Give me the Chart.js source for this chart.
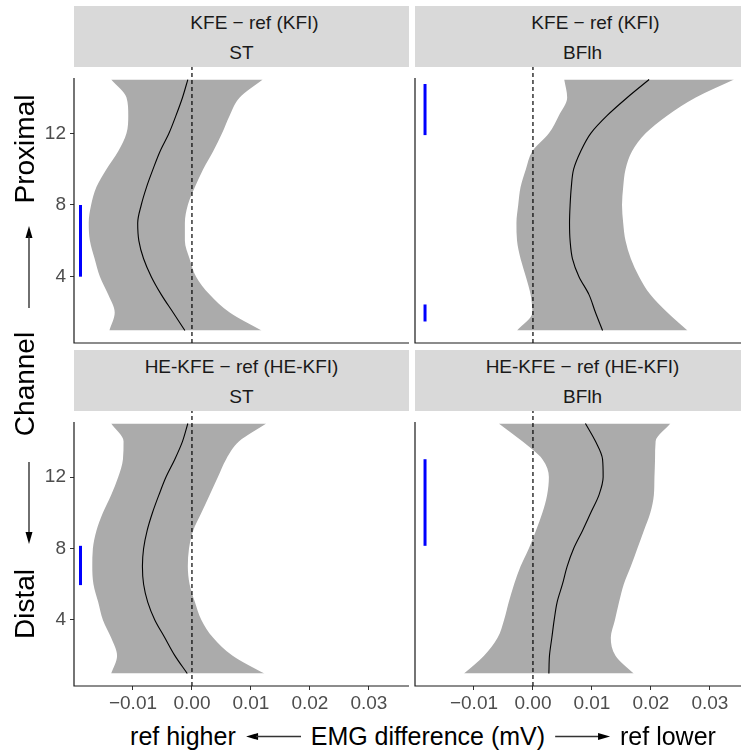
<!DOCTYPE html>
<html>
<head>
<meta charset="utf-8">
<script src="https://cdn.jsdelivr.net/npm/chart.js@4.4.0/dist/chart.umd.min.js"></script>
<style>
  html, body { margin: 0; padding: 0; background: #fff; overflow: hidden; }
  body { width: 741px; height: 753px; position: relative; font-family: "Liberation Sans", Arial, sans-serif; }
  canvas { position: absolute; }
  .strip {
    position: absolute; width: 335px; height: 61px; box-sizing: border-box; padding-top: 3px;
    background: #d9d9d9; color: #1a1a1a; font-size: 19px; line-height: 30px;
    display: flex; flex-direction: column; justify-content: center; align-items: center; white-space: nowrap;
  }
  .strip .shift { padding-left: 26px; }
  .ytitle { position: absolute; font-size: 28px; color: #000; white-space: nowrap; transform: translate(-50%, -50%) rotate(-90deg); }
  .xtitle {
    position: absolute; left: 423px; top: 736px; transform: translate(-50%, -50%);
    display: flex; align-items: center; gap: 10px; font-size: 25px; color: #000; white-space: nowrap;
  }
  svg { display: block; }
  .yarrow { position: absolute; }
</style>
</head>
<body>

<div class="strip" style="left:74px; top:6px;"><div class="shift">KFE − ref (KFI)</div><div>ST</div></div>
<div class="strip" style="left:415px; top:6px;"><div class="shift">KFE − ref (KFI)</div><div>BFlh</div></div>
<div class="strip" style="left:74px; top:350px;"><div>HE-KFE − ref (HE-KFI)</div><div>ST</div></div>
<div class="strip" style="left:415px; top:350px;"><div>HE-KFE − ref (HE-KFI)</div><div>BFlh</div></div>

<canvas id="p1" width="410" height="278" style="left:0px; top:67px;"></canvas>
<canvas id="p2" width="346" height="278" style="left:405px; top:67px;"></canvas>
<canvas id="p3" width="410" height="310" style="left:0px; top:411px;"></canvas>
<canvas id="p4" width="346" height="310" style="left:405px; top:411px;"></canvas>

<div class="ytitle" style="left:25px; top:149px;">Proximal</div>
<svg class="yarrow" style="left:22px; top:226px;" width="14" height="82">
  <polygon points="7,0 3.5,12 10.5,12" fill="#000"/>
  <line x1="7" y1="10" x2="7" y2="82" stroke="#333" stroke-width="1.4"/>
</svg>
<div class="ytitle" style="left:25px; top:384px;">Channel</div>
<svg class="yarrow" style="left:22px; top:462px;" width="14" height="82">
  <line x1="7" y1="0" x2="7" y2="72" stroke="#333" stroke-width="1.4"/>
  <polygon points="7,82 3.5,70 10.5,70" fill="#000"/>
</svg>
<div class="ytitle" style="left:25px; top:604px;">Distal</div>

<div class="xtitle">
  <span>ref higher</span>
  <svg width="55" height="10"><polygon points="0,5 12,1.5 12,8.5" fill="#000"/><line x1="10" y1="5" x2="55" y2="5" stroke="#333" stroke-width="1.4"/></svg>
  <span>EMG difference (mV)</span>
  <svg width="55" height="10"><line x1="0" y1="5" x2="45" y2="5" stroke="#333" stroke-width="1.4"/><polygon points="55,5 43,1.5 43,8.5" fill="#000"/></svg>
  <span>ref lower</span>
</div>

<script>
const channels = [1, 2, 3, 4, 5, 6, 7, 8, 9, 10, 11, 12, 13, 14, 15];
const yTicks = [4, 8, 12];
const yTickLabels = ["4", "8", "12"];
const xTicks = [-0.01, 0, 0.01, 0.02, 0.03];
const xTickLabels = ["\u22120.01", "0.00", "0.01", "0.02", "0.03"];
const xLimits = [-0.0200, 0.0368];

// KFE - ref (KFI), ST
const kfeStLower = [-0.0140, -0.0131, -0.0142, -0.0156, -0.0165, -0.0173, -0.0175, -0.0171, -0.0162, -0.0145, -0.0125, -0.0111, -0.0108, -0.0111, -0.0137];
const kfeStUpper = [0.0118, 0.0064, 0.0030, 0.0007, -0.0004, -0.0012, -0.0012, -0.0007, 0.0005, 0.0019, 0.0036, 0.0051, 0.0064, 0.0081, 0.0120];
const kfeStMean = [-0.0012, -0.0032, -0.0052, -0.0069, -0.0082, -0.0090, -0.0092, -0.0086, -0.0077, -0.0066, -0.0054, -0.0039, -0.0027, -0.0016, -0.0007];
const kfeStSig = [[4, 8]];
const kfeStSigX = -0.0189;

// KFE - ref (KFI), BFlh
const kfeBfLower = [-0.0027, -0.0001, -0.0004, -0.0012, -0.0021, -0.0027, -0.0028, -0.0025, -0.0021, -0.0012, -0.0001, 0.0027, 0.0044, 0.0058, 0.0053];
const kfeBfUpper = [0.0262, 0.0228, 0.0199, 0.0180, 0.0166, 0.0157, 0.0153, 0.0151, 0.0153, 0.0157, 0.0168, 0.0191, 0.0228, 0.0276, 0.0341];
const kfeBfMean = [0.0118, 0.0106, 0.0095, 0.0078, 0.0067, 0.0063, 0.0062, 0.0063, 0.0065, 0.0069, 0.0081, 0.0098, 0.0126, 0.0160, 0.0197];
const kfeBfSig = [[11.9, 14.75], [1.5, 2.45]];
const kfeBfSigX = -0.0183;

// HE-KFE - ref (HE-KFI), ST
const heStLower = [-0.0137, -0.0127, -0.0137, -0.0151, -0.0159, -0.0167, -0.0169, -0.0168, -0.0162, -0.0151, -0.0137, -0.0125, -0.0117, -0.0116, -0.0137];
const heStUpper = [0.0123, 0.0069, 0.0036, 0.0016, 0.0005, -0.0004, -0.0007, -0.0005, 0.0002, 0.0016, 0.0030, 0.0044, 0.0058, 0.0080, 0.0126];
const heStMean = [-0.0008, -0.0029, -0.0046, -0.0063, -0.0075, -0.0082, -0.0084, -0.0082, -0.0076, -0.0067, -0.0056, -0.0044, -0.0029, -0.0016, -0.0007];
const heStSig = [[5.95, 8.15]];
const heStSigX = -0.0189;

// HE-KFE - ref (HE-KFI), BFlh
const heBfLower = [-0.0117, -0.0083, -0.0060, -0.0049, -0.0041, -0.0032, -0.0021, -0.0007, 0.0005, 0.0016, 0.0024, 0.0027, 0.0016, -0.0018, -0.0058];
const heBfUpper = [0.0171, 0.0140, 0.0132, 0.0139, 0.0146, 0.0154, 0.0166, 0.0177, 0.0188, 0.0199, 0.0205, 0.0206, 0.0207, 0.0208, 0.0233];
const heBfMean = [0.0027, 0.0028, 0.0032, 0.0036, 0.0041, 0.0050, 0.0058, 0.0069, 0.0084, 0.0098, 0.0112, 0.0119, 0.0118, 0.0106, 0.0089];
const heBfSig = [[8.15, 13]];
const heBfSigX = -0.0183;

const fontFamily = '"Liberation Sans", Arial, sans-serif';
const ribbonColor = "#ababab";

// ggplot style 5% expansion of the channel range
const yPad = (channels[channels.length - 1] - channels[0]) * 0.05;
const yMin = channels[0] - yPad;
const yMax = channels[channels.length - 1] + yPad;

// axis lines: left one stops just above the last channel, like the original
const axisLines = {
  id: "axisLines",
  afterDatasetsDraw(chart) {
    const { ctx, chartArea: a, scales } = chart;
    const top = scales.y.getPixelForValue(channels[channels.length - 1]) - 1.5;
    ctx.save();
    ctx.strokeStyle = "#1a1a1a";
    ctx.lineWidth = 1.2;
    ctx.beginPath();
    ctx.moveTo(a.left, top);
    ctx.lineTo(a.left, a.bottom);
    ctx.lineTo(a.right, a.bottom);
    ctx.stroke();
    ctx.restore();
  }
};

const toPoints = (vals) => vals.map((v, i) => ({ x: v, y: channels[i] }));

function makePanel(id, lower, upper, mean, sig, sigX, showY, showX) {
  const datasets = [
    { data: toPoints(lower), borderWidth: 0, pointRadius: 0, fill: false, cubicInterpolationMode: "monotone", order: 6 },
    { data: toPoints(upper), borderWidth: 0, pointRadius: 0, fill: 0, backgroundColor: ribbonColor, cubicInterpolationMode: "monotone", order: 5 },
    { data: [{ x: 0, y: yMin }, { x: 0, y: yMax }], borderColor: "#000", borderWidth: 1.2, borderDash: [4, 3], pointRadius: 0, order: 2 },
    { data: toPoints(mean), borderColor: "#000", borderWidth: 1.1, pointRadius: 0, cubicInterpolationMode: "monotone", order: 1 }
  ];
  sig.forEach(seg => {
    datasets.push({ data: seg.map(c => ({ x: sigX, y: c })), borderColor: "#0000ff", borderWidth: 3, pointRadius: 0, order: 0 });
  });

  new Chart(document.getElementById(id), {
    type: "line",
    data: { datasets },
    options: {
      indexAxis: "y",
      responsive: false,
      animation: false,
      events: [],
      layout: { padding: { top: 0, bottom: showX ? 0 : 2, left: showY ? 0 : 10, right: 1 } },
      plugins: { legend: { display: false }, tooltip: { enabled: false } },
      scales: {
        x: {
          type: "linear",
          min: xLimits[0],
          max: xLimits[1],
          display: showX,
          afterBuildTicks: s => { s.ticks = xTicks.map(v => ({ value: v })); },
          afterFit: s => { s.height = showX ? 35 : 0; s.paddingLeft = 0; s.paddingRight = 0; },
          grid: { drawOnChartArea: false, drawTicks: true, tickLength: 4, color: "#333", lineWidth: 1 },
          border: { display: false },
          ticks: { color: "#4d4d4d", font: { family: fontFamily, size: 19 }, padding: 2, maxRotation: 0, autoSkip: false, callback: (v, i) => xTickLabels[i] }
        },
        y: {
          type: "linear",
          min: yMin,
          max: yMax,
          display: showY,
          afterBuildTicks: s => { s.ticks = yTicks.map(v => ({ value: v })); },
          afterFit: s => { s.width = showY ? 74 : 0; s.paddingTop = 0; s.paddingBottom = 0; },
          grid: { drawOnChartArea: false, drawTicks: true, tickLength: 4, color: "#333", lineWidth: 1 },
          border: { display: false },
          ticks: { color: "#4d4d4d", font: { family: fontFamily, size: 19 }, padding: 4, autoSkip: false, callback: (v, i) => yTickLabels[i] }
        }
      }
    },
    plugins: [axisLines]
  });
}

makePanel("p1", kfeStLower, kfeStUpper, kfeStMean, kfeStSig, kfeStSigX, true, false);
makePanel("p2", kfeBfLower, kfeBfUpper, kfeBfMean, kfeBfSig, kfeBfSigX, false, false);
makePanel("p3", heStLower, heStUpper, heStMean, heStSig, heStSigX, true, true);
makePanel("p4", heBfLower, heBfUpper, heBfMean, heBfSig, heBfSigX, false, true);
</script>
</body>
</html>
